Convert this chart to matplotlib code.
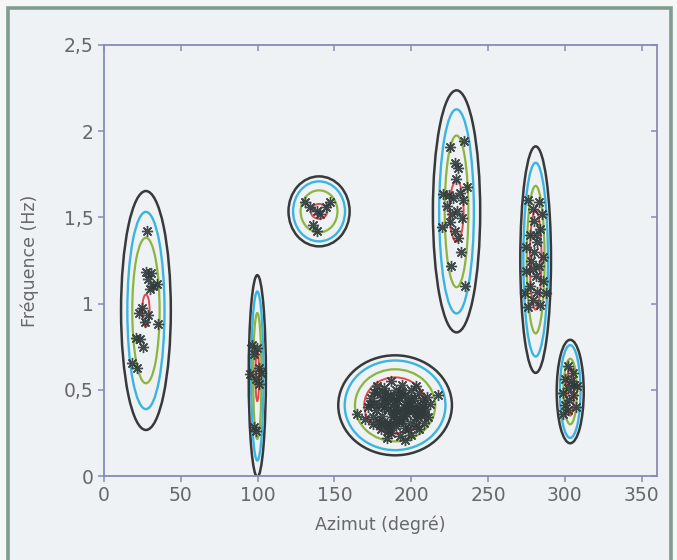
import matplotlib
matplotlib.use("Agg")
import matplotlib.pyplot as plt
from matplotlib.patches import Ellipse, Rectangle
from matplotlib.ticker import FixedLocator

# ---- data ----
centers_x = [27.3, 99.8, 140.0, 189.5, 229.5, 281.0, 303.5]
centers_y = [0.96, 0.58, 1.535, 0.41, 1.535, 1.255, 0.49]
# semi-axes (x in degrees, y in Hz) for each contour level
black_w = [16.2, 5.6, 19.9, 37.0, 15.4, 10.0, 8.8]
black_h = [0.693, 0.585, 0.203, 0.290, 0.702, 0.657, 0.300]
cyan_w = [12.1, 4.0, 16.9, 32.8, 11.3, 8.0, 6.7]
cyan_h = [0.572, 0.490, 0.174, 0.260, 0.592, 0.562, 0.269]
green_w = [8.9, 2.7, 12.0, 26.1, 7.7, 5.8, 4.4]
green_h = [0.422, 0.365, 0.122, 0.209, 0.440, 0.428, 0.190]
red_w = [2.4, 1.2, 5.4, 20.1, 4.6, 3.8, 2.5]
red_h = [0.093, 0.145, 0.043, 0.162, 0.176, 0.290, 0.140]

pts_x = [
    # cluster 1
    28.2, 27.3, 30.7, 28.7, 32.1, 34.4, 30.1, 24.5, 22.8, 28.7, 26.8, 35.2, 20.6, 23.4, 25.4, 18.3, 21.7,
    # cluster 2
    96.3, 99.7, 97.7, 100.6, 102.0, 94.9, 99.2, 100.6, 97.7, 99.2,
    # cluster 3
    131.0, 133.8, 147.0, 144.2, 138.6, 140.6, 135.8, 138.6,
    # cluster 4
    165, 170, 172, 174, 175, 177, 178, 179, 180, 181, 182, 183, 184, 185, 186, 187, 187, 188, 189, 190,
    190, 191, 192, 193, 193, 194, 195, 196, 196, 197, 198, 199, 200, 200, 201, 202, 203, 204, 205, 205,
    206, 207, 208, 209, 210, 211, 212, 217.5, 184, 196, 176, 186, 199, 204, 181, 194,
    173, 176, 179, 182, 185, 188, 191, 194, 197, 200, 203, 206, 209, 178, 183, 188, 193, 198, 203, 208,
    175, 180, 185, 190, 195, 200, 205, 182, 187, 192, 197, 202, 189, 194, 185, 191,
    # cluster 5
    225.1, 234.4, 228.7, 230.7, 229.0, 236.6, 220.8, 224.5, 227.3, 231.5, 233.5, 223.1, 226.8, 230.1,
    232.9, 225.3, 220.3, 228.7, 230.7, 232.4, 225.9, 235.2,
    # cluster 6
    276, 283, 279, 285, 280, 284, 277, 282, 275, 280, 286, 278, 283, 275, 281, 286, 277, 282, 274, 288,
    279, 284, 276, 281, 279,
    # cluster 7
    302, 305, 300, 306, 302, 299, 305, 303, 300, 307, 302, 299, 304, 308,
]
pts_y = [
    # cluster 1
    1.424, 1.182, 1.175, 1.140, 1.103, 1.113, 1.082, 0.975, 0.948, 0.933, 0.896, 0.882, 0.803, 0.797, 0.747, 0.658, 0.627,
    # cluster 2
    0.762, 0.741, 0.710, 0.627, 0.596, 0.590, 0.565, 0.534, 0.286, 0.259,
    # cluster 3
    1.589, 1.558, 1.589, 1.558, 1.538, 1.521, 1.455, 1.424,
    # cluster 4
    0.36, 0.33, 0.40, 0.45, 0.30, 0.38, 0.48, 0.42, 0.27, 0.35, 0.51, 0.44, 0.31, 0.39, 0.47, 0.25, 0.55, 0.34, 0.42, 0.29,
    0.50, 0.37, 0.45, 0.23, 0.33, 0.53, 0.40, 0.28, 0.47, 0.36, 0.43, 0.31, 0.50, 0.24, 0.38, 0.45, 0.33, 0.41, 0.27, 0.48,
    0.36, 0.44, 0.31, 0.39, 0.46, 0.34, 0.42, 0.47, 0.22, 0.21, 0.42, 0.30, 0.39, 0.35, 0.46, 0.48,
    0.42, 0.49, 0.32, 0.40, 0.29, 0.37, 0.44, 0.32, 0.39, 0.45, 0.29, 0.39, 0.36, 0.52, 0.48, 0.31, 0.49, 0.27, 0.52, 0.42,
    0.34, 0.30, 0.43, 0.40, 0.35, 0.41, 0.37, 0.40, 0.46, 0.32, 0.42, 0.38, 0.36, 0.38, 0.26, 0.44,
    # cluster 5
    1.906, 1.941, 1.817, 1.786, 1.724, 1.678, 1.635, 1.631, 1.610, 1.641, 1.600, 1.569, 1.517, 1.538,
    1.496, 1.476, 1.445, 1.424, 1.382, 1.300, 1.217, 1.103,
    # cluster 6
    1.60, 1.59, 1.55, 1.52, 1.48, 1.43, 1.40, 1.36, 1.33, 1.30, 1.27, 1.25, 1.22, 1.19, 1.16, 1.13, 1.10, 1.07, 1.06, 1.06,
    1.02, 0.99, 0.98, 1.40, 1.20,
    # cluster 7
    0.64, 0.60, 0.56, 0.53, 0.51, 0.48, 0.47, 0.44, 0.41, 0.40, 0.38, 0.36, 0.55, 0.52,
]

x_ticks = [0, 50, 100, 150, 200, 250, 300, 350]
y_ticks = [0, 0.5, 1, 1.5, 2, 2.5]
y_tick_labels = ["0", "0,5", "1", "1,5", "2", "2,5"]
x_label = "Azimut (degré)"
y_label = "Fréquence (Hz)"

# ---- styling ----
W, H = 677, 560
fig = plt.figure(figsize=(W / 100, H / 100), dpi=100)
fig.patch.set_facecolor("#f5f7f6")
fig.patches.append(Rectangle((8 / W, -0.05), (671 - 8) / W, 1.05 - 8 / H,
                             transform=fig.transFigure, facecolor="#eef2f4",
                             edgecolor="#7f9c90", linewidth=2.6, zorder=-10))

ax = fig.add_axes([104 / W, 1 - 476 / H, (657 - 104) / W, (476 - 45) / H])
ax.set_zorder(1)
ax.set_facecolor("#eef2f4")
ax.set_xlim(0, 360)
ax.set_ylim(0, 2.5)

level_colors = ["#38393b", "#3cb4e0", "#8db43e", "#e04a4e"]
level_widths = [1.8, 1.7, 1.6, 1.4]
levels = [(black_w, black_h), (cyan_w, cyan_h), (green_w, green_h), (red_w, red_h)]
for (ws, hs), col, lw in zip(levels, level_colors, level_widths):
    for cx, cy, w, h in zip(centers_x, centers_y, ws, hs):
        ax.add_patch(Ellipse((cx, cy), 2 * w, 2 * h, fill=False, edgecolor=col,
                             linewidth=lw, zorder=2))

ax.plot(pts_x, pts_y, linestyle="none", marker=(8, 2, 0), markersize=8,
        markeredgewidth=1.0, color="#303a3a", alpha=0.9, zorder=3)

spine_col = "#858bb5"
for s in ax.spines.values():
    s.set_color(spine_col)
    s.set_linewidth(1.3)

ax.xaxis.set_major_locator(FixedLocator(x_ticks))
ax.yaxis.set_major_locator(FixedLocator(y_ticks))
ax.set_yticklabels(y_tick_labels)
ax.tick_params(axis="both", which="both", colors=spine_col, labelcolor="#66686a",
               labelsize=13.5, length=4, width=1.1, direction="out")
ax.tick_params(top=True, right=True)
# inward ticks on top and right
for t in ax.xaxis.get_major_ticks():
    t.tick2line.set_marker(3)  # TICKDOWN
for t in ax.yaxis.get_major_ticks():
    t.tick2line.set_marker(0)  # TICKLEFT

ax.set_xlabel(x_label, fontsize=12.5, color="#66686a", labelpad=7)
ax.set_ylabel(y_label, fontsize=12.5, color="#66686a", labelpad=18)

fig.savefig("out.png", dpi=100, facecolor=fig.get_facecolor())
